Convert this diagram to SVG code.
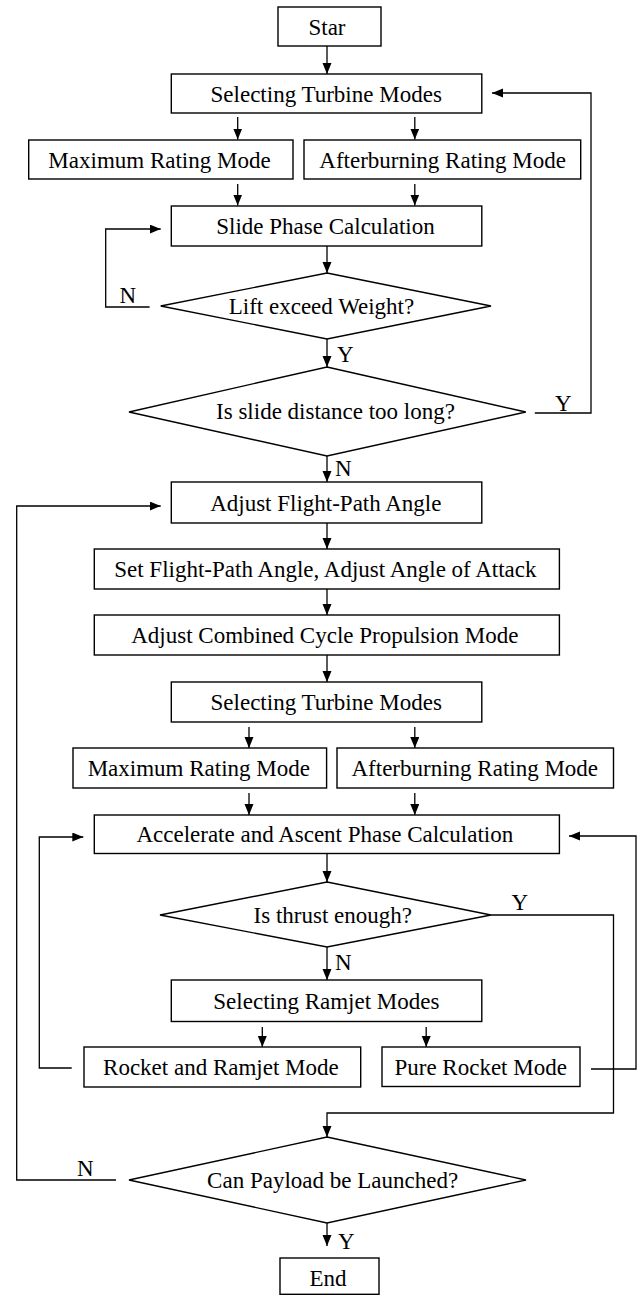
<svg xmlns="http://www.w3.org/2000/svg" width="643" height="1295" viewBox="0 0 643 1295">
<style>
.box{fill:#fff;stroke:#000;stroke-width:1.4}
.t{font-family:"Liberation Serif","Times New Roman",serif;font-size:23px;fill:#000;text-anchor:middle}
.l{font-family:"Liberation Serif","Times New Roman",serif;font-size:23px;fill:#000}
.c{fill:none;stroke:#000;stroke-width:1.3}
</style>
<defs>
<marker id="ah" markerUnits="userSpaceOnUse" markerWidth="12" markerHeight="10" refX="11" refY="4.5" orient="auto">
<path d="M0,0 L11,4.5 L0,9 z" fill="#000"/>
</marker>
</defs>
<rect width="643" height="1295" fill="#fff"/>
<g id="connectors">
<path class="c" marker-end="url(#ah)" d="M327,46 V74"/>
<path class="c" marker-end="url(#ah)" d="M237.7,117 V139.5"/>
<path class="c" marker-end="url(#ah)" d="M414.8,117 V139.5"/>
<path class="c" marker-end="url(#ah)" d="M237.7,184 V205.5"/>
<path class="c" marker-end="url(#ah)" d="M414.8,184 V205.5"/>
<path class="c" marker-end="url(#ah)" d="M327,246 V273"/>
<path class="c" marker-end="url(#ah)" d="M327,339 V367"/>
<path class="c" marker-end="url(#ah)" d="M327,456 V482"/>
<path class="c" marker-end="url(#ah)" d="M327,523 V549"/>
<path class="c" marker-end="url(#ah)" d="M327,589 V615"/>
<path class="c" marker-end="url(#ah)" d="M327,655 V682"/>
<path class="c" marker-end="url(#ah)" d="M249,727 V748"/>
<path class="c" marker-end="url(#ah)" d="M414.8,727 V748"/>
<path class="c" marker-end="url(#ah)" d="M249,793 V815"/>
<path class="c" marker-end="url(#ah)" d="M414.8,793 V815"/>
<path class="c" marker-end="url(#ah)" d="M327,854 V882"/>
<path class="c" marker-end="url(#ah)" d="M327,947 V980"/>
<path class="c" marker-end="url(#ah)" d="M262.3,1027 V1047"/>
<path class="c" marker-end="url(#ah)" d="M426.2,1027 V1047"/>
<path class="c" marker-end="url(#ah)" d="M491,915 H613.5 V1113 H327 V1137"/>
<path class="c" marker-end="url(#ah)" d="M327,1223 V1246"/>
<path class="c" marker-end="url(#ah)" d="M534.8,413 H591 V93 H492"/>
<path class="c" marker-end="url(#ah)" d="M149.6,307 H105.7 V229 H160.7"/>
<path class="c" marker-end="url(#ah)" d="M116,1180 H16.7 V506 H160.7"/>
<path class="c" marker-end="url(#ah)" d="M71.7,1068 H39.3 V837 H83.3"/>
<path class="c" marker-end="url(#ah)" d="M591,1069 H636 V836 H569"/>
<text class="l" x="119.5" y="303">N</text>
<text class="l" x="337" y="361.5">Y</text>
<text class="l" x="555" y="411">Y</text>
<text class="l" x="335" y="476">N</text>
<text class="l" x="511.5" y="910">Y</text>
<text class="l" x="335" y="970">N</text>
<text class="l" x="77" y="1176">N</text>
<text class="l" x="338" y="1249">Y</text>
</g>
<g id="start"><rect class="box" x="278" y="7" width="103" height="39"/><text class="t" x="327" y="35">Star</text></g>
<g id="select1"><rect class="box" x="171.3" y="74" width="310.5" height="39"/><text class="t" x="326.2" y="101.5">Selecting Turbine Modes</text></g>
<g id="max1"><rect class="box" x="28.7" y="140" width="264.3" height="39"/><text class="t" x="159.5" y="167.5">Maximum Rating Mode</text></g>
<g id="after1"><rect class="box" x="304" y="140" width="276.7" height="39"/><text class="t" x="442.6" y="167.5">Afterburning Rating Mode</text></g>
<g id="slide"><rect class="box" x="171.3" y="206" width="310.5" height="40"/><text class="t" x="325.5" y="234">Slide Phase Calculation</text></g>
<g id="lift"><polygon class="box" points="327,273 491,306 327,339 160.7,306"/><text class="t" x="321.5" y="314">Lift exceed Weight?</text></g>
<g id="slidelong"><polygon class="box" points="327,367 525.8,412 327,456 129,412"/><text class="t" x="335.5" y="418.5">Is slide distance too long?</text></g>
<g id="adjfpa"><rect class="box" x="171.3" y="482" width="310.5" height="41"/><text class="t" x="325.8" y="511">Adjust Flight-Path Angle</text></g>
<g id="setfpa"><rect class="box" x="94.3" y="549" width="465.1" height="40"/><text class="t" x="325.4" y="577">Set Flight-Path Angle, Adjust Angle of Attack</text></g>
<g id="adjcc"><rect class="box" x="94.3" y="615" width="465.1" height="40"/><text class="t" x="324.8" y="643">Adjust Combined Cycle Propulsion Mode</text></g>
<g id="select2"><rect class="box" x="171.3" y="682" width="310.5" height="40"/><text class="t" x="326.2" y="710">Selecting Turbine Modes</text></g>
<g id="max2"><rect class="box" x="73" y="748" width="253.6" height="40"/><text class="t" x="198.8" y="776">Maximum Rating Mode</text></g>
<g id="after2"><rect class="box" x="337" y="748" width="276.5" height="40"/><text class="t" x="474.8" y="776">Afterburning Rating Mode</text></g>
<g id="accel"><rect class="box" x="94.3" y="815" width="465.1" height="38.5"/><text class="t" x="324.8" y="842">Accelerate and Ascent Phase Calculation</text></g>
<g id="thrust"><polygon class="box" points="327,882 491,915 327,947 160,915"/><text class="t" x="332.8" y="923">Is thrust enough?</text></g>
<g id="ramjet"><rect class="box" x="171.3" y="980" width="310.5" height="41.5"/><text class="t" x="326.4" y="1009">Selecting Ramjet Modes</text></g>
<g id="rocketramjet"><rect class="box" x="84" y="1047" width="276.7" height="40"/><text class="t" x="220.9" y="1075">Rocket and Ramjet Mode</text></g>
<g id="purerocket"><rect class="box" x="382" y="1047" width="198" height="39.5"/><text class="t" x="480.7" y="1075">Pure Rocket Mode</text></g>
<g id="payload"><polygon class="box" points="327,1137 526,1180 327,1223 129,1180"/><text class="t" x="332.6" y="1188">Can Payload be Launched?</text></g>
<g id="end"><rect class="box" x="280" y="1258" width="99" height="36.3"/><text class="t" x="328" y="1286">End</text></g>
</svg>
